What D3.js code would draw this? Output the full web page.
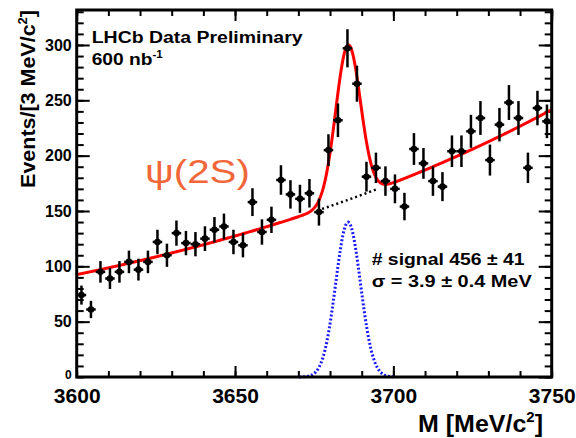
<!DOCTYPE html>
<html><head><meta charset="utf-8">
<script src="https://cdn.jsdelivr.net/npm/d3@7/dist/d3.min.js"></script>
<style>
body{margin:0;background:#fff;}
svg text{font-family:"Liberation Sans",Arial,Helvetica,sans-serif;}
</style>
</head><body>
<svg id="c" width="576" height="438"></svg>
<script>
// ---- data ----
const massBins = [3601.5,3604.5,3607.5,3610.5,3613.5,3616.5,3619.5,3622.5,3625.5,3628.5,
  3631.5,3634.5,3637.5,3640.5,3643.5,3646.5,3649.5,3652.5,3655.5,3658.5,
  3661.5,3664.5,3667.5,3670.5,3673.5,3676.5,3679.5,3682.5,3685.5,3688.5,
  3691.5,3694.5,3697.5,3700.5,3703.5,3706.5,3709.5,3712.5,3715.5,3718.5,
  3721.5,3724.5,3727.5,3730.5,3733.5,3736.5,3739.5,3742.5,3745.5,3748.5];
const counts = [74,61,95,89,95,104,97,104,122,110,
  130,121,120,125,133,136,122,119,158,131,
  142,178,165,161,166,149,205,232,297,265,
  181,189,177,170,154,206,193,177,172,204,
  204,222,234,196,228,248,234,189,243,231];
const binWidth = 3;
const bkgParams = [92.5, 0.0064];        // level at 3600, exponential slope
const sigParams = [456, 3685.7, 3.9];     // yield, mean, sigma
const xTicks = [3600,3650,3700,3750];
const yTicks = [0,50,100,150,200,250,300];
const xDomain = [3600,3750];
const yDomain = [0,331.6];

// ---- layout ----
const svg = d3.select("#c");
const L=76.7, R=551.7, T=10, B=377;
const x = d3.scaleLinear().domain(xDomain).range([L,R]);
const y = d3.scaleLinear().domain(yDomain).range([B,T]);

const bkg = m => bkgParams[0]*Math.exp(bkgParams[1]*(m-xDomain[0]));
const sig = m => sigParams[0]*binWidth/(Math.sqrt(2*Math.PI)*sigParams[2]) *
                 Math.exp(-0.5*Math.pow((m-sigParams[1])/sigParams[2],2));

// ---- axes (ticks inward, mirrored) ----
const minorX = d3.range(xDomain[0], xDomain[1]+0.01, 10);
const minorY = d3.range(0, yDomain[1], 10);
function axisG(axis, tr){
  const g = svg.append("g").attr("transform", tr).call(axis);
  g.select(".domain").remove();
  g.selectAll(".tick line").attr("stroke","#000").attr("stroke-width",2);
  return g;
}
axisG(d3.axisBottom(x).tickValues(minorX).tickSize(-6).tickFormat(""), `translate(0,${B})`);
axisG(d3.axisTop(x).tickValues(minorX).tickSize(-6).tickFormat(""), `translate(0,${T})`);
axisG(d3.axisLeft(y).tickValues(minorY).tickSize(-7).tickFormat(""), `translate(${L},0)`);
axisG(d3.axisRight(y).tickValues(minorY).tickSize(-7).tickFormat(""), `translate(${R},0)`);
const gx = axisG(d3.axisBottom(x).tickValues(xTicks).tickSize(-11).tickPadding(11).tickFormat(d3.format("d")), `translate(0,${B})`);
gx.selectAll("text").attr("font-size",21).attr("font-weight","bold").attr("fill","#000")
  .style("font-family",'"Liberation Sans",Arial,sans-serif');
axisG(d3.axisTop(x).tickValues(xTicks).tickSize(-11).tickFormat(""), `translate(0,${T})`);
const gy = axisG(d3.axisLeft(y).tickValues(yTicks).tickSize(-13).tickPadding(5).tickFormat(d3.format("d")), `translate(${L},0)`);
gy.selectAll("text").attr("font-size",16).attr("font-weight","bold").attr("fill","#000")
  .style("font-family",'"Liberation Sans",Arial,sans-serif');
// the "0" label sits in the corner: smaller and nudged up, as in the reference
gy.selectAll(".tick").filter(d=>d===0).select("text").attr("font-size",12).attr("dy","0.1em");
axisG(d3.axisRight(y).tickValues(yTicks).tickSize(-13).tickFormat(""), `translate(${R},0)`);
gx.selectAll(".tick").filter(d=>d===xDomain[0]||d===xDomain[1]).select("line").remove();
gy.selectAll(".tick").filter(d=>d===0).select("line").remove();

// ---- curves ----
const grid = d3.range(xDomain[0], xDomain[1]+0.001, 0.25);
const line = d3.line().x(d=>x(d[0])).y(d=>y(d[1]));
// blue signal only
const sigRange = [sigParams[1]-4*sigParams[2], sigParams[1]+3.7*sigParams[2]];
svg.append("path")
  .datum(grid.filter(m=>m>=sigRange[0]&&m<=sigRange[1]).map(m=>[m,sig(m)]))
  .attr("d",line).attr("fill","none").attr("stroke","#1a1aff")
  .attr("stroke-width",3).attr("stroke-dasharray","2,2");
// black dotted background under peak
const bRange = [sigParams[1]-2.5*sigParams[2], sigParams[1]+2.5*sigParams[2]];
svg.append("path")
  .datum(grid.filter(m=>m>=bRange[0]&&m<=bRange[1]).map(m=>[m,bkg(m)]))
  .attr("d",line).attr("fill","none").attr("stroke","#000")
  .attr("stroke-width",2.5).attr("stroke-dasharray","2,3");
// red total
svg.append("path")
  .datum(grid.map(m=>[m,bkg(m)+sig(m)]))
  .attr("d",line).attr("fill","none").attr("stroke","#ff0000")
  .attr("stroke-width",3);

// ---- data points ----
const pts = svg.append("g");
massBins.forEach((m,i)=>{
  const v = counts[i], e = Math.sqrt(v);
  pts.append("line").attr("x1",x(m)).attr("x2",x(m)).attr("y1",y(v-e)).attr("y2",y(v+e))
    .attr("stroke","#000").attr("stroke-width",2.5);
  pts.append("line").attr("x1",x(m-binWidth/2)).attr("x2",x(m+binWidth/2)).attr("y1",y(v)).attr("y2",y(v))
    .attr("stroke","#000").attr("stroke-width",2.5);
  pts.append("circle").attr("cx",x(m)).attr("cy",y(v)).attr("r",3.3).attr("fill","#000");
});

// ---- frame ----
svg.append("rect").attr("x",L).attr("y",T).attr("width",R-L).attr("height",B-T)
  .attr("fill","none").attr("stroke","#000").attr("stroke-width",3);

// ---- texts ----
function label(tx, ty, opts){
  const g = svg.append("g").attr("transform",`translate(${tx},${ty})${opts.rotate?` rotate(${opts.rotate})`:""}`);
  const t = g.append("text").attr("font-size",opts.size).attr("font-weight",opts.weight||"bold")
    .attr("fill",opts.color||"#000").attr("text-anchor",opts.anchor||"start");
  opts.parts.forEach(p=>{
    const ts = t.append("tspan").text(p.t);
    if(p.sup){ ts.attr("font-size",opts.size*0.6).attr("dy",-opts.size*0.42); }
    if(p.down){ ts.attr("dy",opts.size*0.42); }
  });
  if(opts.width){
    const n = t.node().getComputedTextLength();
    t.attr("transform",`scale(${opts.width/n},1)`);
  }
  return t;
}
label(91.7, 42.7, {size:17, width:211, parts:[{t:"LHCb Data Preliminary"}]});
label(91.7, 65, {size:17, width:71, parts:[{t:"600 nb"},{t:"-1",sup:true}]});
label(145, 183, {size:34, weight:"normal", color:"#f2673a", width:105, parts:[{t:"ψ(2S)"}]});
label(371.7, 265, {size:16, width:153, parts:[{t:"# signal 456 ± 41"}]});
label(371.7, 287, {size:16, width:160, parts:[{t:"σ =  3.9 ± 0.4 MeV"}]});
label(35, 99, {size:20, rotate:-90, anchor:"middle", width:178,
  parts:[{t:"Events/[3 MeV/c"},{t:"2",sup:true},{t:"]",down:true}]});
label(543, 431.7, {size:24, anchor:"end", width:125,
  parts:[{t:"M [MeV/c"},{t:"2",sup:true},{t:"]",down:true}]});
</script>
</body></html>
